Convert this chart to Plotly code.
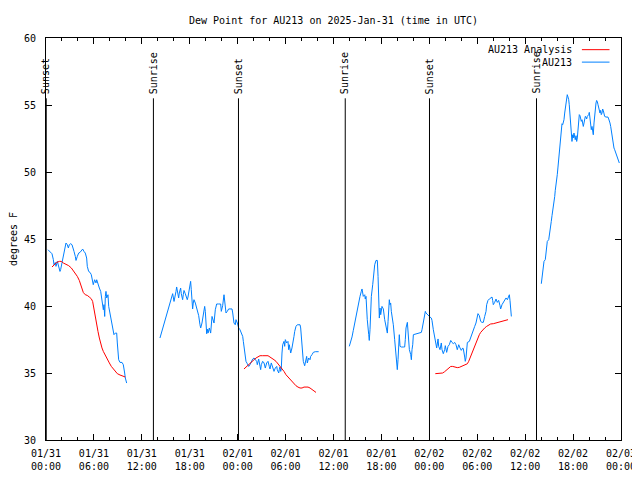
import pandas as pd
import plotly.graph_objects as go

# ---- data (hours after 2025-01-31 00:00 UTC, dew point in degrees F) ----
obs_hours_1 = [0.25,0.5,0.75,0.92,1.0,1.17,1.25,1.42,1.58,1.75,1.83,2.0,2.17,2.34,2.5,2.67,2.8,2.92,3.09,3.26,3.34,3.51,3.67,3.76,3.92,4.09,4.26,4.42,4.59,4.76,4.92,5.09,5.17,5.34,5.51,5.67,5.84,5.92,6.09,6.26,6.35,6.51,6.68,6.85,7.01,7.18,7.26,7.35,7.43,7.51,7.6,7.76,7.85,8.01,8.18,8.35,8.51,8.68,8.85,8.93,9.02,9.1,9.27,9.52,9.68,9.77,9.85,9.93,10.1]
obs_vals_1 = [44.2,44.07,43.9,43.46,43.08,43.25,42.96,43.33,42.83,42.58,42.71,43.21,43.7,44.2,44.7,44.57,44.33,44.57,44.65,44.57,44.33,44.07,43.7,43.4,43.7,43.95,44.0,44.15,44.25,44.07,43.95,43.58,42.96,42.58,42.51,42.34,41.84,41.59,41.96,41.72,41.96,41.59,41.34,41.09,40.47,39.72,40.1,39.22,40.72,41.09,40.6,40.84,39.97,39.48,38.85,38.23,37.86,37.98,37.98,37.24,36.49,35.99,35.79,35.79,35.62,35.37,35.0,34.63,34.25]

obs_hours_2 = [14.27,14.44,14.61,14.78,14.86,15.03,15.19,15.36,15.53,15.69,15.78,15.86,16.03,16.11,16.28,16.36,16.53,16.61,16.69,16.78,16.86,16.94,17.11,17.19,17.28,17.44,17.53,17.69,17.78,17.94,18.11,18.19,18.28,18.36,18.44,18.53,18.7,18.87,19.03,19.12,19.28,19.37,19.53,19.7,19.87,19.95,20.04,20.12,20.2,20.29,20.45,20.62,20.79,20.87,21.04,21.2,21.37,21.62,21.87,21.95,22.12,22.29,22.37,22.54,22.7,22.87,23.04,23.29,23.38,23.54,23.7,23.79,23.96,24.13,24.29,24.46,24.63,24.71,24.88,
               25.04,25.21,25.38,25.54,25.71,25.88,26.05,26.21,26.38,26.46,26.63,26.8,26.88,26.96,27.13,27.3,27.46,27.63,27.8,27.96,28.05,28.21,28.39,28.55,28.71,28.89,28.96,29.14,29.21,29.3,29.39,29.46,29.55,29.64,29.8,29.89,29.97,30.14,30.3,30.39,30.47,30.64,30.8,30.89,31.05,31.14,31.3,31.47,31.81,31.89,31.97,32.14,32.22,32.39,32.47,32.64,32.72,32.89,33.06,33.14,33.31,33.47,33.72,34.14]
obs_vals_2 = [37.61,37.98,38.23,38.53,38.85,39.22,39.52,39.78,40.22,40.6,40.84,40.92,40.34,40.72,41.09,41.42,40.84,40.6,40.97,41.22,41.34,40.92,40.47,40.84,41.16,40.92,40.67,40.47,40.67,41.46,41.84,41.22,40.47,39.78,40.22,40.47,40.22,39.85,39.6,39.28,38.6,38.36,38.73,39.22,39.97,39.6,38.36,37.93,38.28,37.98,38.36,37.98,39.22,38.98,38.73,39.72,40.15,40.15,40.15,39.6,40.02,40.84,40.47,39.48,39.6,39.78,39.78,39.78,39.48,38.73,38.6,38.98,38.73,38.36,38.23,37.98,37.73,37.36,36.61,
              35.87,35.69,35.49,35.62,35.87,36.04,36.12,35.99,35.87,35.62,36.04,35.49,35.25,35.62,35.87,35.75,35.37,35.75,35.87,35.49,35.3,35.75,35.37,35.12,35.37,35.49,35.25,35.0,35.25,35.45,35.12,35.3,36.49,37.11,37.36,36.99,37.49,37.24,37.36,36.74,37.11,36.49,36.87,37.36,37.73,38.1,38.48,38.6,38.6,38.36,37.73,36.74,35.87,35.54,35.87,36.24,35.75,36.12,35.99,36.24,36.37,36.54,36.59,36.59]

obs_hours_3 = [37.98,38.15,38.32,38.48,38.66,38.82,38.98,39.16,39.32,39.48,39.57,39.66,39.73,39.91,39.98,40.07,40.15,40.23,40.41,40.48,40.57,40.66,40.74,40.91,40.99,41.16,41.32,41.49,41.58,41.66,41.74,41.82,41.91,42.07,42.24,42.41,42.57,42.66,42.74,42.83,42.91,42.99,43.07,43.16,43.24,43.41,43.49,43.66,43.74,43.91,43.99,44.08,44.16,44.24,44.33,44.49,44.74,44.91,44.99,45.08,45.25,45.33,45.41,45.5,45.67,45.75,45.83,45.92,46.0,46.25,46.5,46.75,47.0,47.08,47.17,47.25,47.42,47.5,47.58,47.75,47.92,48.08,48.25,48.33,48.5,
               48.67,48.83,48.92,49.09,49.17,49.34,49.5,49.59,49.75,49.92,50.0,50.17,50.34,50.5,50.68,50.84,51.0,51.18,51.34,51.5,51.68,51.84,52.0,52.18,52.26,52.43,52.5,52.59,52.68,52.76,53.01,53.18,53.34,53.51,53.68,53.84,53.93,54.09,54.26,54.43,54.59,54.76,54.93,55.1,55.18,55.35,55.51,55.68,55.85,55.93,56.01,56.18,56.35,56.51,56.68,56.85,56.93,57.1,57.26,57.44,57.6,57.77,57.94,58.02,58.1,58.19,58.27]
obs_vals_3 = [36.99,37.28,37.69,38.18,38.78,39.35,39.85,40.27,40.72,41.09,41.27,40.97,40.72,40.84,40.52,40.72,39.6,38.98,37.86,37.43,38.23,39.6,40.72,41.59,42.26,43.08,43.4,43.4,42.21,40.22,39.1,39.85,39.35,39.97,39.78,38.98,38.53,38.23,37.98,38.85,39.72,40.47,40.1,40.22,39.6,38.98,38.6,37.49,36.74,35.87,35.25,35.99,37.19,37.86,36.99,36.94,36.94,36.94,37.49,38.36,38.78,38.23,37.36,36.74,36.37,35.99,36.74,37.11,37.86,37.91,37.93,37.98,38.03,38.23,38.6,38.93,39.52,39.6,39.48,39.35,39.22,39.18,39.1,38.93,38.23,
              37.61,37.28,36.87,37.54,36.99,36.74,37.24,36.74,36.44,36.74,37.04,36.54,36.99,37.11,37.43,37.28,37.19,37.28,37.11,36.74,37.11,36.87,36.69,36.87,36.79,36.19,35.87,36.12,36.74,37.28,37.36,37.61,37.86,38.1,38.48,38.73,39.1,39.43,39.28,38.85,38.78,38.78,39.22,39.6,40.1,40.42,40.52,40.6,40.67,40.42,40.1,40.27,40.52,40.27,40.42,40.02,39.78,40.1,40.27,40.52,40.6,40.47,40.72,40.84,40.42,39.85,39.22]

obs_hours_4 = [62.02,62.11,62.19,62.36,62.52,62.61,62.7,62.77,62.95,63.02,63.11,63.2,63.27,63.36,63.45,63.52,63.61,63.7,63.77,63.86,63.95,64.02,64.11,64.2,64.27,64.36,64.45,64.52,64.61,64.7,64.77,64.86,64.95,65.02,65.11,65.2,65.27,65.36,65.45,65.52,65.61,65.7,65.77,65.86,65.95,66.02,66.11,66.2,66.27,66.37,66.45,66.53,66.62,66.7,66.78,66.87,66.95,67.03,67.12,67.28,67.37,67.45,67.53,67.62,67.7,67.78,67.95,68.03,68.12,68.2,68.28,68.37,68.45,68.53,68.62,68.7,68.78,68.87,68.95,69.03,69.12,69.2,69.28,69.37,69.45,69.53,69.62,69.7,69.78,69.87,69.95,70.12,70.37,70.46,70.53,70.62,70.71,70.79,70.87,70.96,71.04,71.12,71.21,71.29,71.37,71.54,71.62,71.71,71.79]
obs_vals_4 = [41.66,42.21,42.84,43.33,43.46,43.95,44.33,44.82,44.95,45.19,45.57,45.94,46.31,46.74,47.06,47.43,47.81,48.18,48.63,48.98,49.43,49.8,50.37,50.92,51.42,52.04,52.66,53.16,53.6,53.53,53.7,53.9,54.4,54.78,55.1,55.52,55.77,55.6,55.4,55.02,54.4,53.66,52.91,52.28,52.78,52.54,52.91,52.54,52.41,52.71,52.28,52.54,53.16,53.78,54.28,54.2,54.03,53.78,53.9,53.4,53.66,53.96,54.15,54.1,53.96,54.15,54.28,54.45,53.96,53.53,53.16,53.4,53.03,52.78,53.66,54.4,54.95,55.15,55.34,55.27,55.02,54.78,54.52,54.4,54.6,54.28,54.4,54.7,54.6,54.4,54.15,54.1,54.1,53.96,53.85,53.66,53.4,53.03,52.78,52.41,52.04,51.79,51.66,51.54,51.37,51.16,50.97,50.79,50.67]

ana_hours_1 = [0.75,1.0,1.34,1.67,1.92,2.17,2.5,2.84,3.17,3.42,3.67,3.92,4.17,4.34,4.51,4.67,4.92,5.17,5.42,5.67,5.84,6.01,6.17,6.35,6.51,6.68,6.85,7.01,7.18,7.43,7.68,7.93,8.18,8.43,8.68,8.93,9.27,9.6,9.93]
ana_vals_1 = [42.91,43.08,43.25,43.33,43.33,43.21,43.13,43.01,42.84,42.66,42.46,42.21,41.91,41.59,41.27,41.01,40.84,40.79,40.67,40.54,40.34,39.72,39.1,38.6,38.1,37.61,37.11,36.87,36.61,36.29,35.99,35.75,35.49,35.3,35.12,34.95,34.85,34.75,34.7]
ana_hours_2 = [24.79,25.04,25.29,25.54,25.8,26.05,26.3,26.55,26.8,27.13,27.46,27.8,28.05,28.3,28.55,28.8,29.05,29.3,29.55,29.8,30.05,30.3,30.55,30.8,31.05,31.3,31.55,31.81,32.06,32.31,32.56,32.81,33.06,33.31,33.56,33.81]
ana_vals_2 = [35.3,35.45,35.54,35.69,35.87,35.99,36.12,36.19,36.29,36.29,36.29,36.29,36.19,36.12,35.99,35.87,35.69,35.49,35.3,35.12,34.87,34.7,34.5,34.37,34.2,34.05,33.95,33.88,33.88,33.95,33.95,33.95,33.88,33.75,33.66,33.55]
ana_hours_3 = [48.75,49.0,49.25,49.67,49.92,50.17,50.42,50.68,50.93,51.18,51.5,51.75,52.0,52.26,52.5,52.76,52.93,53.09,53.26,53.43,53.59,53.76,53.93,54.09,54.26,54.43,54.68,54.93,55.18,55.43,55.68,56.01,56.35,56.68,57.01,57.35,57.68,57.85]
ana_vals_3 = [34.95,34.95,35.0,35.0,35.1,35.25,35.34,35.49,35.49,35.45,35.4,35.42,35.49,35.6,35.64,35.69,35.87,36.12,36.37,36.61,36.87,37.11,37.36,37.61,37.86,38.03,38.23,38.36,38.48,38.58,38.66,38.68,38.73,38.78,38.83,38.88,38.98,38.98]

sun_event_hours = [0.03, 13.45, 24.1, 37.47, 48.02, 61.42]
sun_event_names = ["Sunset", "Sunrise", "Sunset", "Sunrise", "Sunset", "Sunrise"]

station = "AU213"
start = pd.Timestamp("2025-01-31 00:00")
end = pd.Timestamp("2025-02-03 00:00")


def to_time(h):
    return start + pd.to_timedelta(h, unit="h")


def join_segments(segs):
    xs, ys = [], []
    for hrs, vals in segs:
        if xs:
            xs.append(None)
            ys.append(None)
        xs.extend(to_time(h) for h in hrs)
        ys.extend(vals)
    return xs, ys


obs_x, obs_y = join_segments([(obs_hours_1, obs_vals_1), (obs_hours_2, obs_vals_2),
                              (obs_hours_3, obs_vals_3), (obs_hours_4, obs_vals_4)])
ana_x, ana_y = join_segments([(ana_hours_1, ana_vals_1), (ana_hours_2, ana_vals_2),
                              (ana_hours_3, ana_vals_3)])

RED = "#ff0000"
BLUE = "#0080ff"
FONT = "DejaVu Sans Mono"

# The page body adds an 8px margin, so the figure is 632x472 placed at (8, 8).
W, H = 632, 472

fig = go.Figure()
fig.add_trace(go.Scatter(x=obs_x, y=obs_y, mode="lines", name=station,
                         line=dict(color=BLUE, width=1), connectgaps=False, showlegend=False))
fig.add_trace(go.Scatter(x=ana_x, y=ana_y, mode="lines", name=station + " Analysis",
                         line=dict(color=RED, width=1), connectgaps=False, showlegend=False))

for h, name in zip(sun_event_hours, sun_event_names):
    t = to_time(h)
    fig.add_shape(type="line", xref="x", yref="y", x0=t, x1=t, y0=30, y1=55.5,
                  line=dict(color="black", width=1))
    fig.add_annotation(x=t, y=55.68, xref="x", yref="y", text=name, textangle=-90,
                       showarrow=False, xanchor="center", yanchor="bottom",
                       font=dict(family=FONT, size=10, color="black"))

# manual gnuplot-style legend (text right, sample line to the right)
legend_rows = [(station + " Analysis", RED, 0.971), (station, BLUE, 0.940)]
for label, col, yp in legend_rows:
    fig.add_annotation(x=0.919, y=yp, xref="paper", yref="paper", text=label,
                       showarrow=False, xanchor="right", yanchor="middle",
                       font=dict(family=FONT, size=10, color="black"))
    fig.add_shape(type="line", xref="paper", yref="paper", x0=0.932, x1=0.980,
                  y0=yp, y1=yp, line=dict(color=col, width=1))

fig.update_layout(
    width=W, height=H,
    margin=dict(l=38, r=19, t=30, b=40, autoexpand=False),
    paper_bgcolor="white", plot_bgcolor="white",
    font=dict(family=FONT, size=10, color="black"),
    title=dict(text="Dew Point for " + station + " on 2025-Jan-31 (time in UTC)",
               x=0.5, xref="paper", y=1 - 12 / H, yref="container",
               xanchor="center", yanchor="middle",
               font=dict(family=FONT, size=10, color="black")),
    showlegend=False,
)
fig.update_xaxes(
    type="date", range=[start, end], showgrid=False, zeroline=False, automargin=False,
    showline=True, linecolor="black", linewidth=1, mirror="allticks",
    ticks="inside", ticklen=6, tickcolor="black",
    dtick=6 * 3600 * 1000, tick0=start, tickformat="%m/%d<br>%H:%M",
    ticklabelstandoff=4,
    minor=dict(dtick=2 * 3600 * 1000, ticks="inside", ticklen=3, tickcolor="black"),
    tickfont=dict(family=FONT, size=10),
)
fig.update_yaxes(
    range=[30, 60], dtick=5, showgrid=False, zeroline=False, automargin=False,
    showline=True, linecolor="black", linewidth=1, mirror="allticks",
    ticks="inside", ticklen=6, tickcolor="black",
    ticklabelstandoff=7,
    title=dict(text="degrees F", standoff=10, font=dict(family=FONT, size=10)),
    tickfont=dict(family=FONT, size=10),
)

fig.write_html("out.html")
